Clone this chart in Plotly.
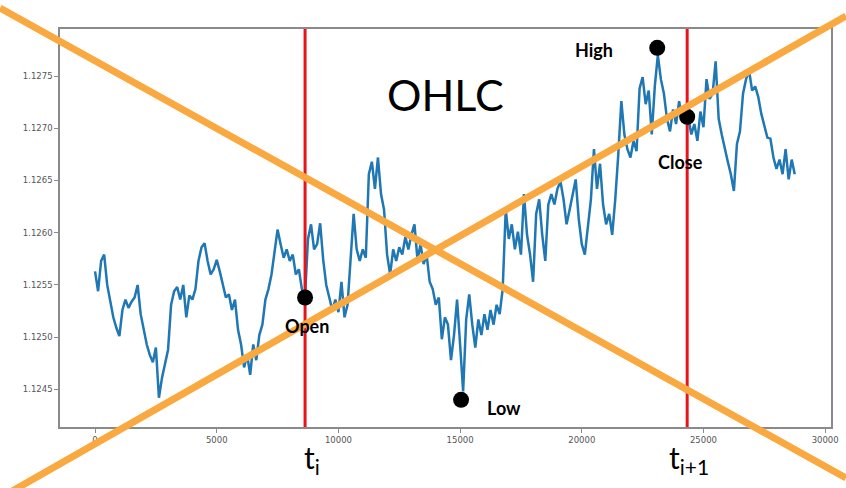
import plotly.graph_objects as go

# ---------------- data ----------------
step = 125  # time index spacing (ticks)
prices = [
    1.12563, 1.12544, 1.12573, 1.12579, 1.12550, 1.12536, 1.12519, 1.12509, 1.12501, 1.12526,
    1.12536, 1.12528, 1.12534, 1.12538, 1.12550, 1.12522, 1.12507, 1.12493, 1.12483, 1.12476,
    1.12490, 1.12442, 1.12461, 1.12476, 1.12488, 1.12531, 1.12544, 1.12548, 1.12536, 1.12550,
    1.12519, 1.12540, 1.12536, 1.12546, 1.12573, 1.12586, 1.12590, 1.12573, 1.12560, 1.12565,
    1.12574, 1.12563, 1.12550, 1.12538, 1.12541, 1.12526, 1.12536, 1.12507, 1.12493, 1.12471,
    1.12483, 1.12464, 1.12493, 1.12478, 1.12502, 1.12512, 1.12536, 1.12546, 1.12560, 1.12584,
    1.12603, 1.12589, 1.12576, 1.12584, 1.12573, 1.12579, 1.12560, 1.12565, 1.12546, 1.12538,
    1.12594, 1.12608, 1.12584, 1.12589, 1.12609, 1.12574, 1.12550, 1.12538, 1.12526, 1.12536,
    1.12524, 1.12553, 1.12519, 1.12531, 1.12579, 1.12618, 1.12584, 1.12573, 1.12584, 1.12576,
    1.12656, 1.12668, 1.12642, 1.12672, 1.12637, 1.12622, 1.12579, 1.12560, 1.12584, 1.12573,
    1.12586, 1.12579, 1.12596, 1.12584, 1.12598, 1.12608, 1.12574, 1.12589, 1.12570, 1.12579,
    1.12553, 1.12546, 1.12531, 1.12538, 1.12498, 1.12519, 1.12512, 1.12478, 1.12502, 1.12536,
    1.12493, 1.12448, 1.12517, 1.12541, 1.12512, 1.12490, 1.12517, 1.12502, 1.12522, 1.12507,
    1.12526, 1.12512, 1.12531, 1.12522, 1.12546, 1.12622, 1.12594, 1.12608, 1.12584, 1.12601,
    1.12579, 1.12637, 1.12598, 1.12579, 1.12553, 1.12618, 1.12632, 1.12598, 1.12573, 1.12627,
    1.12637, 1.12627, 1.12642, 1.12649, 1.12632, 1.12608, 1.12622, 1.12637, 1.12651, 1.12613,
    1.12589, 1.12579, 1.12603, 1.12632, 1.12680, 1.12642, 1.12666, 1.12627, 1.12608, 1.12618,
    1.12598, 1.12632, 1.12675, 1.12726, 1.12694, 1.12680, 1.12672, 1.12688, 1.12678, 1.12738,
    1.12749, 1.12723, 1.12736, 1.12694, 1.12740, 1.12770, 1.12747, 1.12733, 1.12709, 1.12697,
    1.12718, 1.12704, 1.12726, 1.12707, 1.12715, 1.12711, 1.12694, 1.12704, 1.12688, 1.12716,
    1.12701, 1.12747, 1.12728, 1.12733, 1.12764, 1.12709, 1.12694, 1.12680, 1.12668, 1.12656,
    1.12640, 1.12685, 1.12697, 1.12733, 1.12747, 1.12755, 1.12736, 1.12740, 1.12730, 1.12714,
    1.12701, 1.12691, 1.12690, 1.12672, 1.12661, 1.12670, 1.12656, 1.12680, 1.12651, 1.12670,
    1.12656,
]
times = [i * step for i in range(len(prices))]

t_i = 8630
t_i1 = 24330
ohlc_labels = ["Open", "High", "Low", "Close"]
ohlc_x = [8630, 23100, 15040, 24330]
ohlc_y = [1.12538, 1.12777, 1.12440, 1.12711]

x_ticks = [0, 5000, 10000, 15000, 20000, 25000, 30000]
y_ticks = [1.1245, 1.1250, 1.1255, 1.1260, 1.1265, 1.1270, 1.1275]

x_range = [-1440, 30240]
y_range = [1.12414, 1.12795]

# ---------------- layout helpers ----------------
W, H = 846, 488
L, R, T, B = 60, 15, 29, 61
PW, PH = W - L - R, H - T - B


def px_x(p):
    return (p - L) / PW


def px_y(p):
    return (H - B - p) / PH


fig = go.Figure()

fig.add_trace(go.Scatter(
    x=times, y=prices, mode="lines",
    line=dict(color="#1f77b4", width=2.5),
    hoverinfo="skip", showlegend=False,
))

for tv in (t_i, t_i1):
    fig.add_trace(go.Scatter(
        x=[tv, tv], y=y_range, mode="lines",
        line=dict(color="#e8141c", width=3),
        hoverinfo="skip", showlegend=False,
    ))

fig.add_trace(go.Scatter(
    x=ohlc_x, y=ohlc_y, mode="markers",
    marker=dict(color="black", size=16),
    hoverinfo="skip", showlegend=False, cliponaxis=False,
))

orange = "#f9a93f"
shapes = [
    dict(type="line", xref="paper", yref="paper",
         x0=px_x(0), y0=px_y(8), x1=px_x(846), y1=px_y(478),
         line=dict(color=orange, width=7), layer="above"),
    dict(type="line", xref="paper", yref="paper",
         x0=px_x(0), y0=px_y(498), x1=px_x(846), y1=px_y(16),
         line=dict(color=orange, width=7), layer="above"),
]

txt_font = "Lato, 'Open Sans', sans-serif"
annotations = [
    dict(text="OHLC", x=px_x(445), y=px_y(94), xref="paper", yref="paper",
         showarrow=False, font=dict(family=txt_font, size=43, color="black"),
         xanchor="center", yanchor="middle"),
    dict(text="<b>High</b>", x=px_x(594), y=px_y(50), xref="paper", yref="paper",
         showarrow=False, font=dict(family=txt_font, size=18, color="black"),
         xanchor="center", yanchor="middle"),
    dict(text="<b>Close</b>", x=px_x(680), y=px_y(162), xref="paper", yref="paper",
         showarrow=False, font=dict(family=txt_font, size=18, color="black"),
         xanchor="center", yanchor="middle"),
    dict(text="<b>Open</b>", x=px_x(307), y=px_y(326), xref="paper", yref="paper",
         showarrow=False, font=dict(family=txt_font, size=18, color="black"),
         xanchor="center", yanchor="middle"),
    dict(text="<b>Low</b>", x=px_x(504), y=px_y(408), xref="paper", yref="paper",
         showarrow=False, font=dict(family=txt_font, size=18, color="black"),
         xanchor="center", yanchor="middle"),
    dict(text="t<sub>i</sub>", x=px_x(312), y=px_y(459), xref="paper", yref="paper",
         showarrow=False, font=dict(family=txt_font, size=30, color="black"),
         xanchor="center", yanchor="middle"),
    dict(text="t<sub>i+1</sub>", x=px_x(689), y=px_y(459), xref="paper", yref="paper",
         showarrow=False, font=dict(family=txt_font, size=30, color="black"),
         xanchor="center", yanchor="middle"),
]

axis_common = dict(
    showgrid=False, zeroline=False, showline=True, mirror=True,
    linecolor="#8a8a8a", linewidth=1.5, automargin=False,
    ticks="outside", ticklen=4, tickwidth=1, tickcolor="#8a8a8a",
    tickfont=dict(family="DejaVu Sans", size=8.5, color="#555555"),
)

fig.update_layout(
    width=W, height=H, autosize=False,
    margin=dict(l=L, r=R, t=T, b=B, pad=0),
    paper_bgcolor="white", plot_bgcolor="white",
    xaxis=dict(range=x_range, tickvals=x_ticks,
               ticktext=[str(v) for v in x_ticks], **axis_common),
    yaxis=dict(range=y_range, tickvals=y_ticks,
               ticktext=[f"{v:.4f}" for v in y_ticks], **axis_common),
    shapes=shapes, annotations=annotations,
    showlegend=False,
)

fig.write_html(
    "out.html",
    config={"displayModeBar": False},
    post_script="document.body.style.margin='0';document.body.style.overflow='hidden';",
)
